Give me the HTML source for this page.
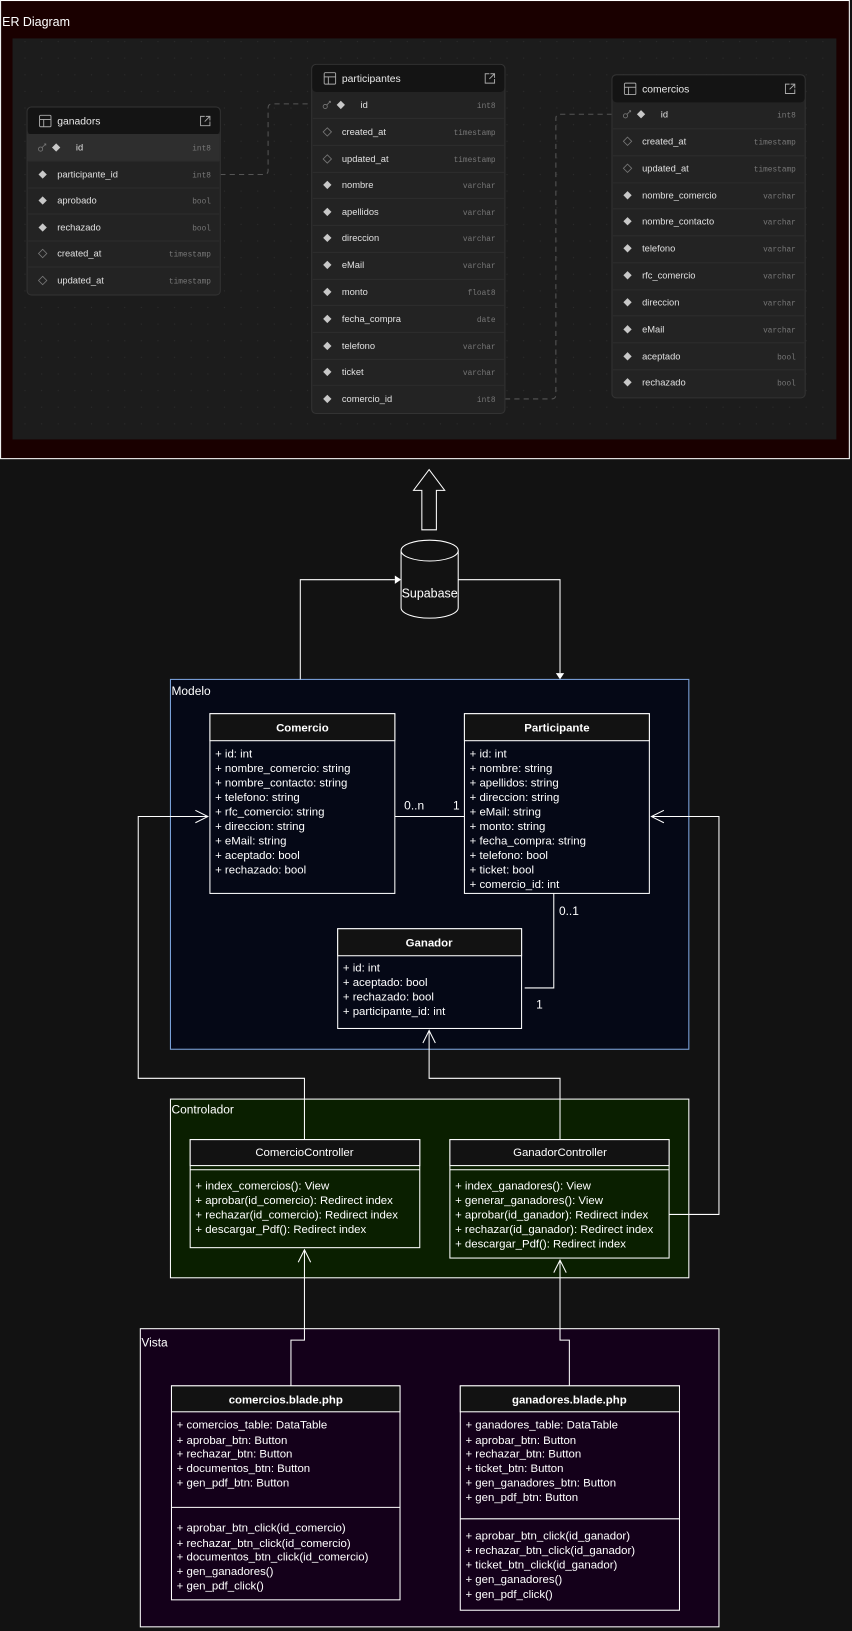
<!DOCTYPE html>
<html><head><meta charset="utf-8"><style>
html,body{margin:0;padding:0;background:#121212;}
svg{display:block;}
.s{font-family:"Liberation Sans",Arial,sans-serif;}
</style></head><body>
<svg width="852" height="1631" viewBox="0 0 820 1570" xmlns="http://www.w3.org/2000/svg" class="s">
<defs>
<pattern id="dots" width="16" height="16" patternUnits="userSpaceOnUse"><circle cx="8" cy="8" r="0.6" fill="#2c2c2c"/></pattern>
<g id="dia"><path d="M0,-4 L4,0 L0,4 L-4,0Z" fill="#c8c8c8"/></g>
<g id="hdia"><path d="M0,-4 L4,0 L0,4 L-4,0Z" fill="none" stroke="#777" stroke-width="0.8"/></g>
<g id="key"><circle cx="-2" cy="1.5" r="2" fill="none" stroke="#777" stroke-width="0.8"/><path d="M-0.5,0 L3,-3.5 M1.5,-3.5 L3,-3.5 L3,-2" stroke="#777" stroke-width="0.8" fill="none"/></g>
<g id="tbl"><rect x="0" y="0" width="11" height="11" fill="none" stroke="#aaa" stroke-width="0.9" rx="1"/><line x1="0" y1="4" x2="11" y2="4" stroke="#aaa" stroke-width="0.9"/><line x1="4" y1="4" x2="4" y2="11" stroke="#aaa" stroke-width="0.9"/></g>
<g id="ext"><path d="M5,1 L1,1 L1,10 L10,10 L10,6 M6,1 L10,1 L10,5 M10,1 L5,6" fill="none" stroke="#aaa" stroke-width="0.9"/></g>
</defs>
<rect x="0" y="0" width="820" height="1570" fill="#121212"/>
<!-- ER frame -->
<rect x="0.5" y="0.5" width="817" height="441" fill="#1a0000" stroke="#fff" stroke-width="1"/>
<text x="2" y="25" font-size="12" fill="#fff">ER Diagram</text>
<rect x="12" y="37" width="793" height="386" fill="#1c1c1c"/>
<rect x="12" y="37" width="793" height="386" fill="url(#dots)"/>
<!-- dashed connectors -->
<path d="M212,168 L254,168 Q258,168 258,164 L258,104 Q258,100 262,100 L300,100" fill="none" stroke="#555" stroke-width="1" stroke-dasharray="5,4"/>
<path d="M486,384 L531,384 Q535,384 535,380 L535,114 Q535,110 539,110 L589,110" fill="none" stroke="#555" stroke-width="1" stroke-dasharray="5,4"/>

<!-- ganadors -->
<g transform="translate(26,103)">
<rect x="0" y="0" width="186" height="181" rx="4" fill="#232323" stroke="#333"/>
<rect x="0.5" y="0.5" width="185" height="26" rx="4" fill="#141414"/>
<use href="#tbl" x="12" y="8"/><text x="29" y="17" font-size="10" fill="#e8e8e8">ganadors</text><use href="#ext" x="166" y="8"/>
<rect x="0.5" y="26" width="185" height="26" fill="#2e2e2e"/>
<g font-size="9" fill="#e0e0e0">
<use href="#key" x="15" y="39"/><use href="#dia" x="28" y="39"/><text x="47" y="42">id</text>
<use href="#dia" x="15" y="65"/><text x="29" y="68">participante_id</text>
<use href="#dia" x="15" y="90"/><text x="29" y="93">aprobado</text>
<use href="#dia" x="15" y="116"/><text x="29" y="119">rechazado</text>
<use href="#hdia" x="15" y="141"/><text x="29" y="144">created_at</text>
<use href="#hdia" x="15" y="167"/><text x="29" y="170">updated_at</text>
</g>
<g font-size="7.5" fill="#777" font-family="Liberation Mono,monospace" text-anchor="end">
<text x="177" y="42">int8</text><text x="177" y="68">int8</text><text x="177" y="93">bool</text><text x="177" y="119">bool</text><text x="177" y="144">timestamp</text><text x="177" y="170">timestamp</text>
</g>
<g stroke="#2c2c2c"><line x1="1" y1="52" x2="185" y2="52"/><line x1="1" y1="78" x2="185" y2="78"/><line x1="1" y1="103" x2="185" y2="103"/><line x1="1" y1="129" x2="185" y2="129"/><line x1="1" y1="154" x2="185" y2="154"/></g>
</g>

<!-- participantes -->
<g transform="translate(300,62)">
<rect x="0" y="0" width="186" height="336" rx="4" fill="#232323" stroke="#333"/>
<rect x="0.5" y="0.5" width="185" height="26" rx="4" fill="#141414"/>
<use href="#tbl" x="12" y="8"/><text x="29" y="17" font-size="10" fill="#e8e8e8">participantes</text><use href="#ext" x="166" y="8"/>
<g font-size="9" fill="#e0e0e0">
<use href="#key" x="15" y="39"/><use href="#dia" x="28" y="39"/><text x="47" y="42">id</text>
<use href="#hdia" x="15" y="65"/><text x="29" y="68">created_at</text>
<use href="#hdia" x="15" y="91"/><text x="29" y="94">updated_at</text>
<use href="#dia" x="15" y="116"/><text x="29" y="119">nombre</text>
<use href="#dia" x="15" y="142"/><text x="29" y="145">apellidos</text>
<use href="#dia" x="15" y="167"/><text x="29" y="170">direccion</text>
<use href="#dia" x="15" y="193"/><text x="29" y="196">eMail</text>
<use href="#dia" x="15" y="219"/><text x="29" y="222">monto</text>
<use href="#dia" x="15" y="245"/><text x="29" y="248">fecha_compra</text>
<use href="#dia" x="15" y="271"/><text x="29" y="274">telefono</text>
<use href="#dia" x="15" y="296"/><text x="29" y="299">ticket</text>
<use href="#dia" x="15" y="322"/><text x="29" y="325">comercio_id</text>
</g>
<g font-size="7.5" fill="#777" font-family="Liberation Mono,monospace" text-anchor="end">
<text x="177" y="42">int8</text><text x="177" y="68">timestamp</text><text x="177" y="94">timestamp</text><text x="177" y="119">varchar</text><text x="177" y="145">varchar</text><text x="177" y="170">varchar</text><text x="177" y="196">varchar</text><text x="177" y="222">float8</text><text x="177" y="248">date</text><text x="177" y="274">varchar</text><text x="177" y="299">varchar</text><text x="177" y="325">int8</text>
</g>
<g stroke="#2c2c2c"><line x1="1" y1="52" x2="185" y2="52"/><line x1="1" y1="78" x2="185" y2="78"/><line x1="1" y1="104" x2="185" y2="104"/><line x1="1" y1="129" x2="185" y2="129"/><line x1="1" y1="155" x2="185" y2="155"/><line x1="1" y1="181" x2="185" y2="181"/><line x1="1" y1="207" x2="185" y2="207"/><line x1="1" y1="232" x2="185" y2="232"/><line x1="1" y1="258" x2="185" y2="258"/><line x1="1" y1="284" x2="185" y2="284"/><line x1="1" y1="309" x2="185" y2="309"/></g>
</g>

<!-- comercios -->
<g transform="translate(589,72)">
<rect x="0" y="0" width="186" height="311" rx="4" fill="#232323" stroke="#333"/>
<rect x="0.5" y="0.5" width="185" height="26" rx="4" fill="#141414"/>
<use href="#tbl" x="12" y="8"/><text x="29" y="17" font-size="10" fill="#e8e8e8">comercios</text><use href="#ext" x="166" y="8"/>
<g font-size="9" fill="#e0e0e0">
<use href="#key" x="15" y="38"/><use href="#dia" x="28" y="38"/><text x="47" y="41">id</text>
<use href="#hdia" x="15" y="64"/><text x="29" y="67">created_at</text>
<use href="#hdia" x="15" y="90"/><text x="29" y="93">updated_at</text>
<use href="#dia" x="15" y="116"/><text x="29" y="119">nombre_comercio</text>
<use href="#dia" x="15" y="141"/><text x="29" y="144">nombre_contacto</text>
<use href="#dia" x="15" y="167"/><text x="29" y="170">telefono</text>
<use href="#dia" x="15" y="193"/><text x="29" y="196">rfc_comercio</text>
<use href="#dia" x="15" y="219"/><text x="29" y="222">direccion</text>
<use href="#dia" x="15" y="245"/><text x="29" y="248">eMail</text>
<use href="#dia" x="15" y="271"/><text x="29" y="274">aceptado</text>
<use href="#dia" x="15" y="296"/><text x="29" y="299">rechazado</text>
</g>
<g font-size="7.5" fill="#777" font-family="Liberation Mono,monospace" text-anchor="end">
<text x="177" y="41">int8</text><text x="177" y="67">timestamp</text><text x="177" y="93">timestamp</text><text x="177" y="119">varchar</text><text x="177" y="144">varchar</text><text x="177" y="170">varchar</text><text x="177" y="196">varchar</text><text x="177" y="222">varchar</text><text x="177" y="248">varchar</text><text x="177" y="274">bool</text><text x="177" y="299">bool</text>
</g>
<g stroke="#2c2c2c"><line x1="1" y1="52" x2="185" y2="52"/><line x1="1" y1="78" x2="185" y2="78"/><line x1="1" y1="104" x2="185" y2="104"/><line x1="1" y1="129" x2="185" y2="129"/><line x1="1" y1="155" x2="185" y2="155"/><line x1="1" y1="181" x2="185" y2="181"/><line x1="1" y1="207" x2="185" y2="207"/><line x1="1" y1="232" x2="185" y2="232"/><line x1="1" y1="258" x2="185" y2="258"/><line x1="1" y1="284" x2="185" y2="284"/></g>
</g>

<!-- big up arrow -->
<path d="M406,510 L406,472 L398,472 L413,452 L428,472 L420,472 L420,510 Z" fill="none" stroke="#fff" stroke-width="1"/>
<!-- cylinder -->
<path d="M386,530 L386,585 A27.5,10 0 0 0 441,585 L441,530" fill="#121212" stroke="#fff"/>
<ellipse cx="413.5" cy="530" rx="27.5" ry="10" fill="#121212" stroke="#fff"/>
<text x="413.5" y="575" font-size="12" fill="#fff" text-anchor="middle">Supabase</text>

<!-- containers -->
<rect x="164" y="654" width="499" height="356" fill="#050816" stroke="#7ea6e0"/>
<text x="165" y="669" font-size="11.5" fill="#fff">Modelo</text>
<rect x="164" y="1058" width="499" height="172" fill="#0a1f00" stroke="#fff"/>
<text x="165" y="1072" font-size="11.5" fill="#fff">Controlador</text>
<rect x="135" y="1279" width="557" height="287" fill="#14001a" stroke="#fff"/>
<text x="136" y="1296" font-size="11.5" fill="#fff">Vista</text>

<!-- connectors -->
<g fill="none" stroke="#fff" stroke-width="1">
<path d="M289,654 L289,558 L380,558"/>
<path d="M441,558 L539,558 L539,648"/>
<path d="M380,786 L447,786"/>
<path d="M533,860 L533,951 L505,951"/>
<path d="M293,1097 L293,1038 L133,1038 L133,786 L200,786"/>
<path d="M188,780 L200,786 L188,792"/>
<path d="M539,1097 L539,1038 L413,1038 L413,992"/>
<path d="M407,1004 L413,992 L419,1004"/>
<path d="M644,1169 L692,1169 L692,786 L627,786"/>
<path d="M639,780 L627,786 L639,792"/>
<path d="M280,1334 L280,1290 L293,1290 L293,1203"/>
<path d="M287,1215 L293,1203 L299,1215"/>
<path d="M548,1334 L548,1290 L539,1290 L539,1213"/>
<path d="M533,1225 L539,1213 L545,1225"/>
</g>
<path d="M380,554 L386,558 L380,562Z" fill="#fff"/>
<path d="M535,648 L539,654 L543,648Z" fill="#fff"/>

<g font-size="11.5" fill="#fff">
<text x="389" y="779">0..n</text><text x="436" y="779">1</text>
<text x="538" y="881">0..1</text><text x="516" y="971">1</text>
</g>

<!-- Comercio -->
<g font-size="11" fill="#fff">
<rect x="202" y="687" width="178" height="173" fill="#050816" stroke="#fff"/>
<rect x="202" y="687" width="178" height="26" fill="#121212" stroke="#fff"/>
<text x="291" y="704" font-weight="bold" text-anchor="middle">Comercio</text>
<text x="207" y="729">+ id: int</text><text x="207" y="743">+ nombre_comercio: string</text><text x="207" y="757">+ nombre_contacto: string</text><text x="207" y="771">+ telefono: string</text><text x="207" y="785">+ rfc_comercio: string</text><text x="207" y="799">+ direccion: string</text><text x="207" y="813">+ eMail: string</text><text x="207" y="827">+ aceptado: bool</text><text x="207" y="841">+ rechazado: bool</text>

<rect x="447" y="687" width="178" height="173" fill="#050816" stroke="#fff"/>
<rect x="447" y="687" width="178" height="26" fill="#121212" stroke="#fff"/>
<text x="536" y="704" font-weight="bold" text-anchor="middle">Participante</text>
<text x="452" y="729">+ id: int</text><text x="452" y="743">+ nombre: string</text><text x="452" y="757">+ apellidos: string</text><text x="452" y="771">+ direccion: string</text><text x="452" y="785">+ eMail: string</text><text x="452" y="799">+ monto: string</text><text x="452" y="813">+ fecha_compra: string</text><text x="452" y="827">+ telefono: bool</text><text x="452" y="841">+ ticket: bool</text><text x="452" y="855">+ comercio_id: int</text>

<rect x="325" y="894" width="177" height="96" fill="#050816" stroke="#fff"/>
<rect x="325" y="894" width="177" height="26" fill="#121212" stroke="#fff"/>
<text x="413" y="911" font-weight="bold" text-anchor="middle">Ganador</text>
<text x="330" y="935">+ id: int</text><text x="330" y="949">+ aceptado: bool</text><text x="330" y="963">+ rechazado: bool</text><text x="330" y="977">+ participante_id: int</text>

<!-- controllers -->
<rect x="183" y="1097" width="221" height="104" fill="#0a1f00" stroke="#fff"/>
<rect x="183" y="1097" width="221" height="25" fill="#121212" stroke="#fff"/>
<line x1="183" y1="1126" x2="404" y2="1126" stroke="#fff"/>
<text x="293" y="1113" text-anchor="middle">ComercioController</text>
<text x="188" y="1145">+ index_comercios(): View</text><text x="188" y="1159">+ aprobar(id_comercio): Redirect index</text><text x="188" y="1173">+ rechazar(id_comercio): Redirect index</text><text x="188" y="1187">+ descargar_Pdf(): Redirect index</text>

<rect x="433" y="1097" width="211" height="114" fill="#0a1f00" stroke="#fff"/>
<rect x="433" y="1097" width="211" height="25" fill="#121212" stroke="#fff"/>
<line x1="433" y1="1126" x2="644" y2="1126" stroke="#fff"/>
<text x="539" y="1113" text-anchor="middle">GanadorController</text>
<text x="438" y="1145">+ index_ganadores(): View</text><text x="438" y="1159">+ generar_ganadores(): View</text><text x="438" y="1173">+ aprobar(id_ganador): Redirect index</text><text x="438" y="1187">+ rechazar(id_ganador): Redirect index</text><text x="438" y="1201">+ descargar_Pdf(): Redirect index</text>

<!-- views -->
<rect x="165" y="1334" width="220" height="206" fill="#14001a" stroke="#fff"/>
<rect x="165" y="1334" width="220" height="25" fill="#121212" stroke="#fff"/>
<line x1="165" y1="1451" x2="385" y2="1451" stroke="#fff"/>
<text x="275" y="1351" font-weight="bold" text-anchor="middle">comercios.blade.php</text>
<text x="170" y="1375">+ comercios_table: DataTable</text><text x="170" y="1390">+ aprobar_btn: Button</text><text x="170" y="1403">+ rechazar_btn: Button</text><text x="170" y="1417">+ documentos_btn: Button</text><text x="170" y="1431">+ gen_pdf_btn: Button</text>
<text x="170" y="1474">+ aprobar_btn_click(id_comercio)</text><text x="170" y="1489">+ rechazar_btn_click(id_comercio)</text><text x="170" y="1502">+ documentos_btn_click(id_comercio)</text><text x="170" y="1516">+ gen_ganadores()</text><text x="170" y="1530">+ gen_pdf_click()</text>

<rect x="443" y="1334" width="211" height="216" fill="#14001a" stroke="#fff"/>
<rect x="443" y="1334" width="211" height="25" fill="#121212" stroke="#fff"/>
<line x1="443" y1="1462" x2="654" y2="1462" stroke="#fff"/>
<text x="548" y="1351" font-weight="bold" text-anchor="middle">ganadores.blade.php</text>
<text x="448" y="1375">+ ganadores_table: DataTable</text><text x="448" y="1390">+ aprobar_btn: Button</text><text x="448" y="1403">+ rechazar_btn: Button</text><text x="448" y="1417">+ ticket_btn: Button</text><text x="448" y="1431">+ gen_ganadores_btn: Button</text><text x="448" y="1445">+ gen_pdf_btn: Button</text>
<text x="448" y="1482">+ aprobar_btn_click(id_ganador)</text><text x="448" y="1496">+ rechazar_btn_click(id_ganador)</text><text x="448" y="1510">+ ticket_btn_click(id_ganador)</text><text x="448" y="1524">+ gen_ganadores()</text><text x="448" y="1538">+ gen_pdf_click()</text>
</g>
</svg>
</body></html>
